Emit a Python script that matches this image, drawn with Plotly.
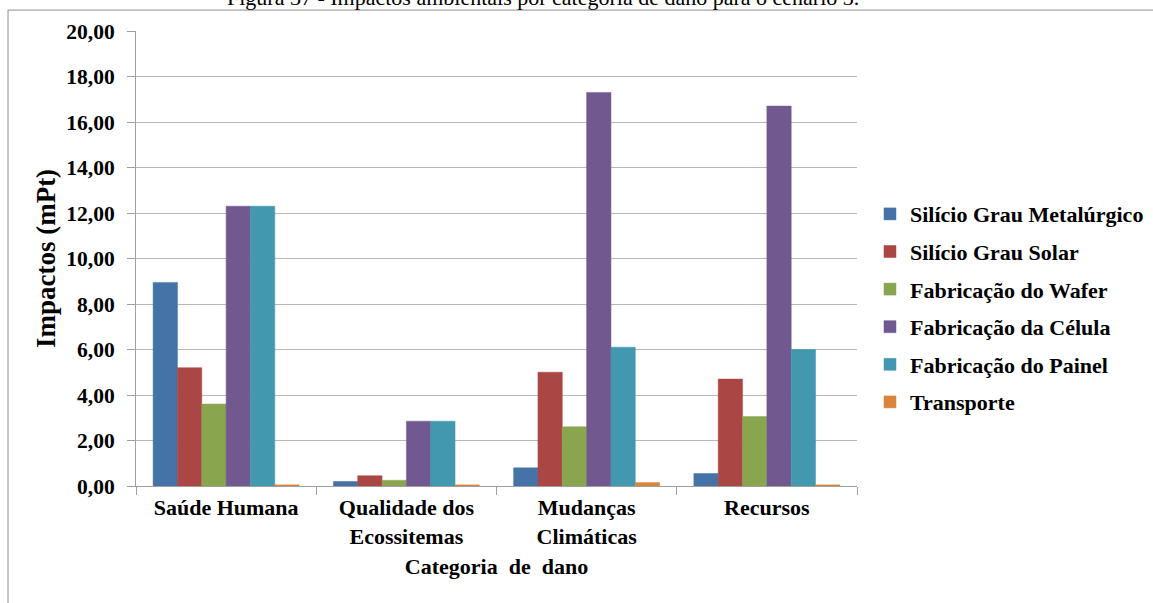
import plotly.graph_objects as go

categories = ["Saúde Humana", "Qualidade dos<br>Ecossitemas", "Mudanças<br>Climáticas", "Recursos"]
series_names = ["Silício Grau Metalúrgico", "Silício Grau Solar", "Fabricação do Wafer",
                "Fabricação da Célula", "Fabricação do Painel", "Transporte"]
silicio_metalurgico = [8.95, 0.20, 0.80, 0.55]
silicio_solar = [5.20, 0.45, 5.00, 4.70]
fab_wafer = [3.60, 0.25, 2.60, 3.05]
fab_celula = [12.30, 2.85, 17.30, 16.70]
fab_painel = [12.30, 2.85, 6.10, 6.00]
transporte = [0.05, 0.05, 0.15, 0.05]
colors = ["#4572A7", "#AA4643", "#89A54E", "#71588F", "#4198AF", "#DB843D"]
y_ticks = [0, 2, 4, 6, 8, 10, 12, 14, 16, 18, 20]
y_ticklabels = ["0,00", "2,00", "4,00", "6,00", "8,00", "10,00", "12,00", "14,00", "16,00", "18,00", "20,00"]

all_values = [silicio_metalurgico, silicio_solar, fab_wafer, fab_celula, fab_painel, transporte]
font_family = "Liberation Serif, Times New Roman, serif"

fig = go.Figure()
for i, (name, vals, col) in enumerate(zip(series_names, all_values, colors)):
    fig.add_trace(go.Bar(
        x=categories, y=vals, name="<b>" + name + "</b>",
        marker=dict(color=col, line=dict(color=col, width=0.5)),
        legendgroup=str(i),
    ))

fig.update_layout(
    width=1153, height=603,
    margin=dict(l=136, r=296, t=31, b=117, autoexpand=False),
    paper_bgcolor="white", plot_bgcolor="white",
    barmode="group", bargap=0.19, bargroupgap=0,
    font=dict(family=font_family, color="black"),
    showlegend=True,
    legend=dict(x=1.018, y=0.391, xanchor="left", yanchor="middle",
                font=dict(size=22, family=font_family, color="black"),
                tracegroupgap=6, itemwidth=30),
    xaxis=dict(
        tickfont=dict(size=22, family=font_family),
        tickprefix="<b>", ticksuffix="</b>",
        showline=True, linecolor="#a0a0a0", linewidth=1,
        ticks="outside", tickson="boundaries", ticklen=8, tickcolor="#a0a0a0",
        ticklabelstandoff=2,
        title=dict(text="<b>Categoria  de  dano</b>", font=dict(size=22, family=font_family), standoff=10),
    ),
    yaxis=dict(
        range=[0, 20], tickvals=y_ticks, ticktext=["<b>" + t + "</b>" for t in y_ticklabels],
        tickfont=dict(size=21.5, family=font_family),
        ticklabelstandoff=8,
        showgrid=True, gridcolor="#b8b8b8", gridwidth=1,
        showline=True, linecolor="#a0a0a0", linewidth=1,
        ticks="outside", ticklen=8, tickcolor="#a0a0a0",
        zeroline=False,
        title=dict(text="<b>Impactos (mPt)</b>", font=dict(size=27, family=font_family), standoff=2),
    ),
)

# chart frame
fig.add_shape(type="rect", xref="paper", yref="paper",
              x0=-0.1775, x1=1.45, y0=-0.30, y1=1.046,
              line=dict(color="#8c8c8c", width=1), fillcolor="rgba(0,0,0,0)", layer="below")

# partially visible caption at the very top
fig.add_annotation(text="Figura 37 - Impactos ambientais por categoria de dano para o cenário 3.",
                   xref="paper", yref="paper", x=0.5645, y=1.073, xanchor="center", yanchor="middle",
                   showarrow=False, font=dict(size=22, family=font_family, color="black"))

fig.write_html("out.html", post_script="document.body.style.margin='0';",
               config={"displayModeBar": False})
